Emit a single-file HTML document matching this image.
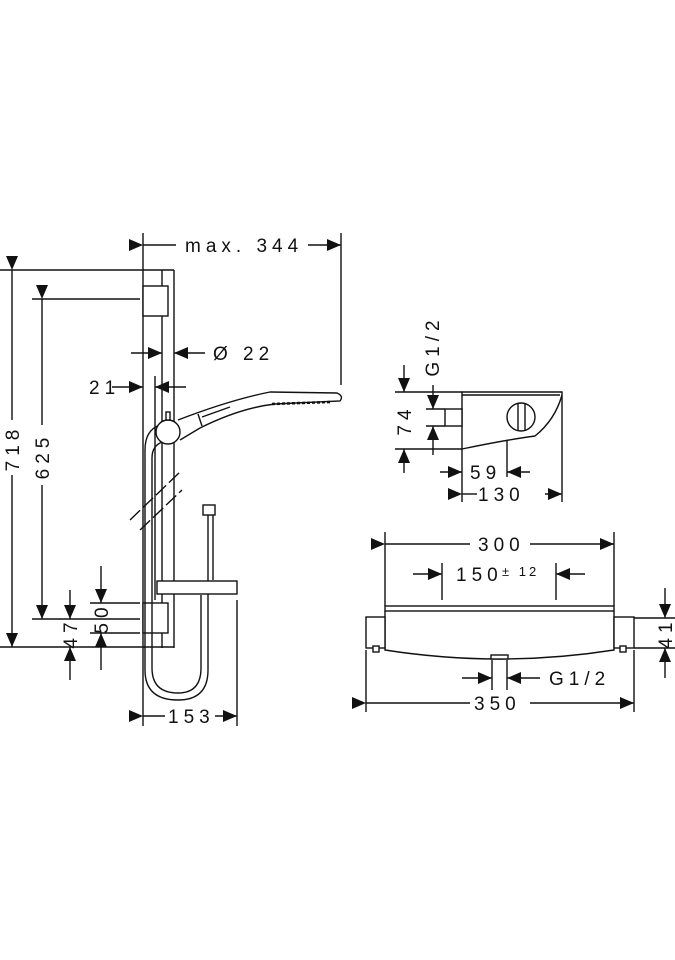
<!DOCTYPE html>
<html><head><style>
html,body{margin:0;padding:0;background:#fff;}
svg{display:block}
text{font-family:"Liberation Sans",sans-serif;font-size:19px;fill:#111;letter-spacing:5px}
</style></head><body>
<svg width="675" height="960" viewBox="0 0 675 960" xmlns="http://www.w3.org/2000/svg">
<defs>
<marker id="a" viewBox="0 0 14 12" refX="14" refY="6" markerWidth="14" markerHeight="12" markerUnits="userSpaceOnUse" orient="auto"><path d="M0,0L14,6L0,12z" fill="#111"/></marker>
</defs>
<g stroke="#111" stroke-width="1.4" fill="none">
<line x1="143" y1="233" x2="143" y2="726"/>
<line x1="341" y1="233" x2="341" y2="385"/>
<line x1="162" y1="270" x2="162" y2="648"/>
<line x1="174" y1="270" x2="174" y2="648"/>
<line x1="0" y1="270" x2="174" y2="270"/>
<line x1="0" y1="647" x2="174" y2="647"/>
<line x1="32" y1="299" x2="140" y2="299"/>
<line x1="32" y1="619" x2="140" y2="619"/>
<rect x="143" y="286" width="25" height="30" fill="#fff"/>
<rect x="143" y="603" width="25" height="30" fill="#fff"/>
<line x1="90" y1="603" x2="140" y2="603"/>
<line x1="90" y1="633" x2="140" y2="633"/>
<path d="M160,425 Q145,430 145,450 L145,670 Q145,700 178,700 Q208,700 208,670 L208,515"/>
<path d="M162,442 Q152,446 152,458 L152,668 Q152,693 178,693 Q201,693 201,668 L201,595"/>
<line x1="213" y1="515" x2="213" y2="580"/>
<rect x="203" y="505" width="12" height="10" fill="#fff"/>
<line x1="155" y1="376" x2="155" y2="600"/>
<rect x="157" y="581" width="80" height="13" fill="#fff"/>
<line x1="237" y1="600" x2="237" y2="726"/>
<line x1="130" y1="520" x2="180" y2="472" stroke-dasharray="14,4"/>
<line x1="140" y1="530" x2="182" y2="490" stroke-dasharray="14,4"/>
<path d="M178,420 Q230,400 270,392 L337,393 Q344,396 340,401 L275,404 Q240,408 200,428 L180,440" fill="#fff"/>
<path d="M198,414 L202,426"/>
<path d="M202,417 L230,407"/>
<path d="M272,404 L330,402" stroke-dasharray="3,2" stroke-width="2.5"/>
<circle cx="168" cy="432" r="12" fill="#fff"/>
<rect x="166" y="412" width="4" height="8" fill="#fff"/>
<line x1="12" y1="270" x2="12" y2="420" marker-start="url(#a)"/>
<line x1="12" y1="475" x2="12" y2="647" marker-end="url(#a)"/>
<line x1="42" y1="299" x2="42" y2="425" marker-start="url(#a)"/>
<line x1="42" y1="485" x2="42" y2="619" marker-end="url(#a)"/>
<line x1="143" y1="245" x2="176" y2="245" marker-start="url(#a)"/>
<line x1="308" y1="245" x2="341" y2="245" marker-end="url(#a)"/>
<line x1="131" y1="353" x2="162" y2="353" marker-end="url(#a)"/>
<line x1="205" y1="353" x2="174" y2="353" marker-end="url(#a)"/>
<line x1="112" y1="387" x2="143" y2="387" marker-end="url(#a)"/>
<line x1="186" y1="387" x2="155" y2="387" marker-end="url(#a)"/>
<line x1="101" y1="566" x2="101" y2="603" marker-end="url(#a)"/>
<line x1="101" y1="670" x2="101" y2="633" marker-end="url(#a)"/>
<line x1="70" y1="590" x2="70" y2="619" marker-end="url(#a)"/>
<line x1="70" y1="680" x2="70" y2="647" marker-end="url(#a)"/>
<line x1="143" y1="716" x2="165" y2="716" marker-start="url(#a)"/>
<line x1="215" y1="716" x2="237" y2="716" marker-end="url(#a)"/>
<path d="M462,392 L562,392 L562,395 Q555,420 535,436 Q505,440 462,449 Z" fill="#fff"/>
<line x1="462" y1="395" x2="560" y2="395"/>
<rect x="445" y="409" width="17" height="17" fill="#fff"/>
<circle cx="521" cy="417" r="14"/>
<line x1="518" y1="403" x2="518" y2="431"/><line x1="525" y1="403" x2="525" y2="431"/>
<line x1="395" y1="392" x2="462" y2="392"/>
<line x1="395" y1="449" x2="462" y2="449"/>
<line x1="426" y1="409" x2="445" y2="409"/><line x1="426" y1="426" x2="445" y2="426"/>
<line x1="562" y1="395" x2="562" y2="502"/>
<line x1="462" y1="449" x2="462" y2="502"/>
<line x1="507" y1="440" x2="507" y2="477"/>
<line x1="404" y1="365" x2="404" y2="392" marker-end="url(#a)"/>
<line x1="404" y1="473" x2="404" y2="449" marker-end="url(#a)"/>
<line x1="433" y1="385" x2="433" y2="409" marker-end="url(#a)"/>
<line x1="433" y1="455" x2="433" y2="426" marker-end="url(#a)"/>
<line x1="440" y1="472" x2="462" y2="472" marker-end="url(#a)"/>
<line x1="530" y1="472" x2="507" y2="472" marker-end="url(#a)"/>
<line x1="462" y1="494" x2="477" y2="494" marker-start="url(#a)"/>
<line x1="545" y1="494" x2="562" y2="494" marker-end="url(#a)"/>
<line x1="385" y1="532" x2="385" y2="606"/>
<line x1="614" y1="532" x2="614" y2="606"/>
<line x1="442" y1="563" x2="442" y2="600"/>
<line x1="556" y1="563" x2="556" y2="600"/>
<rect x="385" y="606" width="229" height="5" fill="#fff"/>
<path d="M385,611 L385,650 Q500,668 614,650 L614,611"/>
<rect x="366" y="617" width="19" height="31" fill="#fff"/>
<rect x="614" y="617" width="20" height="31" fill="#fff"/>
<rect x="373" y="646" width="6" height="6" fill="#fff"/><rect x="620" y="646" width="6" height="6" fill="#fff"/>
<rect x="491" y="655" width="17" height="4" fill="#fff"/>
<line x1="385" y1="544" x2="470" y2="544" marker-start="url(#a)"/>
<line x1="530" y1="544" x2="614" y2="544" marker-end="url(#a)"/>
<line x1="413" y1="574" x2="442" y2="574" marker-end="url(#a)"/>
<line x1="585" y1="574" x2="556" y2="574" marker-end="url(#a)"/>
<line x1="634" y1="618" x2="675" y2="618"/>
<line x1="634" y1="648" x2="675" y2="648"/>
<line x1="665" y1="588" x2="665" y2="618" marker-end="url(#a)"/>
<line x1="665" y1="678" x2="665" y2="648" marker-end="url(#a)"/>
<line x1="492" y1="660" x2="492" y2="690"/><line x1="507" y1="660" x2="507" y2="690"/>
<line x1="462" y1="678" x2="492" y2="678" marker-end="url(#a)"/>
<line x1="540" y1="678" x2="507" y2="678" marker-end="url(#a)"/>
<line x1="366" y1="650" x2="366" y2="712"/>
<line x1="634" y1="650" x2="634" y2="712"/>
<line x1="366" y1="703" x2="470" y2="703" marker-start="url(#a)"/>
<line x1="530" y1="703" x2="634" y2="703" marker-end="url(#a)"/>
</g>
<g>
<text x="185" y="252">max. 344</text>
<text x="213" y="360">Ø 22</text>
<text x="89" y="394">21</text>
<text transform="translate(19,448) rotate(-90)" text-anchor="middle">718</text>
<text transform="translate(49,456) rotate(-90)" text-anchor="middle">625</text>
<text transform="translate(108,618) rotate(-90)" text-anchor="middle">50</text>
<text transform="translate(77,633) rotate(-90)" text-anchor="middle">47</text>
<text x="168" y="723">153</text>
<text transform="translate(439,346) rotate(-90)" text-anchor="middle">G1/2</text>
<text transform="translate(411,420) rotate(-90)" text-anchor="middle">74</text>
<text x="470" y="479">59</text>
<text x="478" y="501">130</text>
<text x="478" y="551">300</text>
<text x="456" y="581">150</text><text x="502" y="576" style="font-size:13px;letter-spacing:3px">± 12</text>
<text transform="translate(672,633) rotate(-90)" text-anchor="middle">41</text>
<text x="549" y="685">G1/2</text>
<text x="474" y="710">350</text>
</g>
</svg>
</body></html>
